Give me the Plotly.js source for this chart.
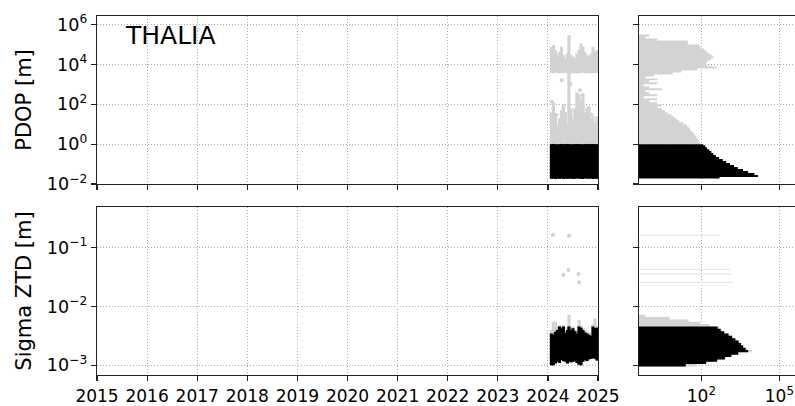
<!DOCTYPE html>
<html>
<head>
<meta charset="utf-8">
<script src="https://cdn.plot.ly/plotly-3.0.1.min.js"></script>
<style>html,body{margin:0;padding:0;background:#fff;}#chart{width:795px;height:406px;}</style>
</head>
<body>
<div id="chart"></div>
<script>
// ---------- DATA ----------
const stationName = "THALIA";
const yearTicks = [2015, 2016, 2017, 2018, 2019, 2020, 2021, 2022, 2023, 2024, 2025];

// sample epochs (decimal years) of the dense time series
const sampleYears = [2024.07, 2024.11, 2024.15, 2024.19, 2024.23, 2024.27, 2024.31, 2024.35,
  2024.39, 2024.42, 2024.46, 2024.50, 2024.54, 2024.58, 2024.62, 2024.66,
  2024.70, 2024.74, 2024.78, 2024.82, 2024.86, 2024.90, 2024.94, 2024.98];

// PDOP (log10 of metres)
const pdopBlackLowExp  = [-1.74,-1.72,-1.75,-1.73,-1.74,-1.72,-1.75,-1.73,-1.74,-1.72,-1.73,-1.75,
                          -1.74,-1.72,-1.73,-1.74,-1.75,-1.72,-1.73,-1.74,-1.72,-1.75,-1.73,-1.74];
const pdopBlackHighExp = [0.0,0.01,0.0,-0.01,0.0,0.01,0.0,0.0,0.01,0.0,-0.01,0.0,
                          0.0,0.01,0.0,0.0,-0.01,0.0,0.01,0.0,0.0,0.01,0.0,0.0];
const pdopGrayMidTopExp = [1.6,2.1,1.5,1.0,1.3,1.7,2.0,1.6,1.0,3.6,1.8,1.3,
                           1.8,2.6,2.5,2.2,2.5,1.6,1.8,1.9,1.3,1.4,1.1,1.4];
const pdopGrayBandLowExp  = [3.58,3.55,3.60,3.57,3.55,3.58,3.56,3.60,3.55,3.50,3.57,3.55,
                             3.58,3.56,3.55,3.57,3.60,3.55,3.58,3.56,3.55,3.57,3.58,3.56];
const pdopGrayBandHighExp = [4.88,4.97,4.72,4.47,4.63,4.88,4.47,4.30,4.55,5.47,4.47,4.38,
                             4.30,4.55,4.72,5.05,4.88,4.63,4.47,4.38,4.55,4.88,4.63,4.72];
const pdopOutlierYears = [2024.275, 2024.64, 2024.69, 2024.29, 2024.08, 2024.87, 2024.81, 2024.17, 2024.55, 2024.45];
const pdopOutlierExp   = [3.2, 2.7, 2.46, 1.47, 2.13, 1.47, 1.8, 1.47, 1.47, 3.0];

// Sigma ZTD (log10 of metres)
const ztdBlackLowExp  = [-3.00,-3.00,-2.97,-2.94,-2.96,-2.91,-2.93,-2.94,-2.97,-2.94,-2.95,-2.94,
                         -2.93,-2.96,-2.99,-3.00,-2.94,-2.91,-2.93,-2.90,-2.89,-2.88,-2.89,-2.92];
const ztdBlackHighExp = [-2.46,-2.48,-2.43,-2.40,-2.34,-2.37,-2.34,-2.45,-2.40,-2.34,-2.40,-2.37,
                         -2.42,-2.46,-2.34,-2.36,-2.40,-2.44,-2.46,-2.48,-2.50,-2.34,-2.37,-2.36];
const ztdGrayHighExp  = [-2.40,-2.26,-2.26,-2.36,-2.32,-2.35,-2.32,-2.42,-2.36,-2.14,-2.38,-2.34,
                         -2.40,-2.42,-2.23,-2.32,-2.37,-2.40,-2.42,-2.44,-2.46,-2.30,-2.20,-2.33];
const ztdOutlierYears = [2024.10, 2024.42, 2024.31, 2024.41, 2024.61, 2024.62];
const ztdOutlierExp   = [-0.78, -0.80, -1.46, -1.38, -1.45, -1.59];

// Histograms: bin edges (log10 of metres) and counts
const pdopGrayEdgesExp = [0.0,0.1,0.2,0.3,0.4,0.5,0.6,0.7,0.8,0.9,1.0,1.1,1.2,1.3,1.4,1.5,1.6,1.7,1.8,1.9,
  2.0,2.1,2.2,2.3,2.4,2.5,2.6,2.7,2.8,2.9,3.0,3.1,3.2,3.3,3.4,3.5,3.6,3.7,3.8,3.9,
  4.0,4.1,4.2,4.3,4.4,4.5,4.6,4.7,4.8,4.9,5.0,5.1,5.2,5.3,5.4,5.5,5.6];
const pdopGrayCounts = [90,80,70,65,58,50,42,36,32,27,20,14,11,9,7,5,4,3,2,3,
  2,1,2,0.6,2,1,0.7,3,1,0.6,2,1,2,0.7,1.5,8,17,70,380,170,
  150,170,230,290,260,200,160,130,95,80,30,30,2,0.7,1,0];
const pdopBlackEdgesExp = [-1.72,-1.65,-1.55,-1.45,-1.35,-1.25,-1.15,-1.05,-0.95,-0.85,
  -0.75,-0.65,-0.55,-0.45,-0.35,-0.25,-0.15,-0.05,0.0];
const pdopBlackCounts = [500,15000,11000,6300,4000,2500,1800,1250,900,660,480,360,290,240,200,165,140,117];

const ztdGrayEdgesExp = [-3.02,-2.98,-2.94,-2.90,-2.86,-2.82,-2.78,-2.74,-2.70,-2.66,-2.62,-2.58,
  -2.54,-2.50,-2.46,-2.42,-2.38,-2.34,-2.30,-2.26,-2.22,-2.18,-2.14];
const ztdGrayCounts = [60,170,430,870,1550,2900,8700,5600,4400,3600,2900,2200,1650,1200,820,600,460,200,90,32,6,0.7];
const ztdBlackEdgesExp = [-3.02,-2.98,-2.94,-2.90,-2.86,-2.82,-2.78,-2.74,-2.70,-2.66,-2.62,-2.58,
  -2.54,-2.50,-2.46,-2.42,-2.38,-2.34];
const ztdBlackCounts = [25,150,400,800,1400,2600,6300,5000,4000,3300,2700,2000,1500,1100,750,550,420];
const ztdOutlierLineExp = [-0.79, -1.37, -1.45, -1.59];
const ztdOutlierLineCounts = [500, 1300, 1500, 1700];

// ---------- BUILD ----------
const GRAY = '#d3d3d3';
const p10 = v => Math.pow(10, v);

function segments(xs, lo, hi) {
  const X = [], Y = [];
  xs.forEach((x, i) => { X.push(x, x, null); Y.push(p10(lo[i]), p10(hi[i]), null); });
  return {X, Y};
}
function stepPoly(edges, counts, floor) {
  const X = [floor], Y = [p10(edges[0])];
  counts.forEach((c, i) => {
    const v = c > 0 ? c : floor;
    X.push(v, v); Y.push(p10(edges[i]), p10(edges[i + 1]));
  });
  X.push(floor); Y.push(p10(edges[edges.length - 1]));
  return {X, Y};
}
function hLines(levels, counts, floor) {
  const X = [], Y = [];
  levels.forEach((c, i) => { X.push(floor, counts[i], null); Y.push(p10(c), p10(c), null); });
  return {X, Y};
}

const SEGW = 3.2;
const traces = [];
// top-left
let s = segments(sampleYears, pdopBlackHighExp, pdopGrayMidTopExp);
traces.push({x: s.X, y: s.Y, xaxis: 'x', yaxis: 'y', mode: 'lines', line: {color: GRAY, width: SEGW}, hoverinfo: 'skip'});
s = segments(sampleYears, pdopGrayBandLowExp, pdopGrayBandHighExp);
traces.push({x: s.X, y: s.Y, xaxis: 'x', yaxis: 'y', mode: 'lines', line: {color: GRAY, width: SEGW}, hoverinfo: 'skip'});
traces.push({x: pdopOutlierYears, y: pdopOutlierExp.map(p10), xaxis: 'x', yaxis: 'y', mode: 'markers',
  marker: {color: GRAY, size: 4}, hoverinfo: 'skip'});
s = segments(sampleYears, pdopBlackLowExp, pdopBlackHighExp);
traces.push({x: s.X, y: s.Y, xaxis: 'x', yaxis: 'y', mode: 'lines', line: {color: '#000', width: SEGW}, hoverinfo: 'skip'});

// top-right
const FLOOR = 0.01;
let h = stepPoly(pdopGrayEdgesExp, pdopGrayCounts, FLOOR);
traces.push({x: h.X, y: h.Y, xaxis: 'x2', yaxis: 'y2', mode: 'lines', fill: 'toself', fillcolor: GRAY, line: {width: 0}, hoverinfo: 'skip'});
h = stepPoly(pdopBlackEdgesExp, pdopBlackCounts, FLOOR);
traces.push({x: h.X, y: h.Y, xaxis: 'x2', yaxis: 'y2', mode: 'lines', fill: 'toself', fillcolor: '#000', line: {width: 0}, hoverinfo: 'skip'});

// bottom-left
s = segments(sampleYears, ztdBlackLowExp, ztdGrayHighExp);
traces.push({x: s.X, y: s.Y, xaxis: 'x3', yaxis: 'y3', mode: 'lines', line: {color: GRAY, width: SEGW}, hoverinfo: 'skip'});
traces.push({x: ztdOutlierYears, y: ztdOutlierExp.map(p10), xaxis: 'x3', yaxis: 'y3', mode: 'markers',
  marker: {color: GRAY, size: 4}, hoverinfo: 'skip'});
s = segments(sampleYears, ztdBlackLowExp, ztdBlackHighExp);
traces.push({x: s.X, y: s.Y, xaxis: 'x3', yaxis: 'y3', mode: 'lines', line: {color: '#000', width: SEGW}, hoverinfo: 'skip'});

// bottom-right
h = stepPoly(ztdGrayEdgesExp, ztdGrayCounts, FLOOR);
traces.push({x: h.X, y: h.Y, xaxis: 'x4', yaxis: 'y4', mode: 'lines', fill: 'toself', fillcolor: GRAY, line: {width: 0}, hoverinfo: 'skip'});
h = hLines(ztdOutlierLineExp, ztdOutlierLineCounts, FLOOR);
traces.push({x: h.X, y: h.Y, xaxis: 'x4', yaxis: 'y4', mode: 'lines', line: {color: '#e2e2e2', width: 1}, hoverinfo: 'skip'});
h = stepPoly(ztdBlackEdgesExp, ztdBlackCounts, FLOOR);
traces.push({x: h.X, y: h.Y, xaxis: 'x4', yaxis: 'y4', mode: 'lines', fill: 'toself', fillcolor: '#000', line: {width: 0}, hoverinfo: 'skip'});

// ---------- LAYOUT ----------
const FONT = 'DejaVu Sans, sans-serif';
const yTickFont = {family: FONT, size: 17.5, color: '#000'};
const xTickFont = {family: FONT, size: 17, color: '#000'};
const common = {
  showline: true, linecolor: '#222', linewidth: 1.3,
  ticks: 'outside', ticklen: 5, tickwidth: 1.2, tickcolor: '#222',
  showgrid: true, gridcolor: '#aaaaaa', gridwidth: 1, griddash: '1px,2px',
  zeroline: false, fixedrange: true
};
const xc = Object.assign({}, common, {tickfont: xTickFont});
const yc = Object.assign({}, common, {tickfont: yTickFont});
const pdopTickVals = [1e-2, 1, 1e2, 1e4, 1e6];
const pdopTickText = ['10<sup>−2</sup>', '10<sup>0</sup>', '10<sup>2</sup>', '10<sup>4</sup>', '10<sup>6</sup>'];
const ztdTickVals = [1e-3, 1e-2, 1e-1];
const ztdTickText = ['10<sup>−3</sup>', '10<sup>−2</sup>', '10<sup>−1</sup>'];
const histTickVals = [1e2, 1e5];
const histTickText = ['10<sup>2</sup>', '10<sup>5</sup>'];

const LEFT = [0, 0.71777], RIGHT = [0.77650, 1];
const TOP = [0.53203, 1], BOT = [0, 0.46797];

const layout = {
  width: 795, height: 406,
  margin: {l: 97, r: 0, t: 16, b: 31},
  paper_bgcolor: '#fff', plot_bgcolor: '#fff',
  showlegend: false,
  font: {family: FONT, color: '#000'},
  xaxis: Object.assign({}, xc, {domain: LEFT, anchor: 'y', range: [2015, 2025], tickvals: yearTicks, showticklabels: false, mirror: true}),
  yaxis: Object.assign({}, yc, {domain: TOP, anchor: 'x', type: 'log', range: [-2, 6.43], tickvals: pdopTickVals, ticktext: pdopTickText, mirror: true,
    title: {text: 'PDOP [m]', font: {family: FONT, size: 21, color: '#000'}, standoff: 9}}),
  xaxis2: Object.assign({}, xc, {domain: RIGHT, anchor: 'y2', type: 'log', range: [-0.40, 5.60], tickvals: histTickVals, showticklabels: false, mirror: true}),
  yaxis2: Object.assign({}, yc, {domain: TOP, anchor: 'x2', type: 'log', range: [-2, 6.43], tickvals: pdopTickVals, showticklabels: false, mirror: false}),
  xaxis3: Object.assign({}, xc, {domain: LEFT, anchor: 'y3', range: [2015, 2025], tickvals: yearTicks, ticktext: yearTicks.map(String), mirror: true}),
  yaxis3: Object.assign({}, yc, {domain: BOT, anchor: 'x3', type: 'log', range: [-3.165, -0.31], tickvals: ztdTickVals, ticktext: ztdTickText, mirror: true,
    title: {text: 'Sigma ZTD [m]', font: {family: FONT, size: 21, color: '#000'}, standoff: 9}}),
  xaxis4: Object.assign({}, xc, {domain: RIGHT, anchor: 'y4', type: 'log', range: [-0.40, 5.60], tickvals: histTickVals, ticktext: histTickText, mirror: true}),
  yaxis4: Object.assign({}, yc, {domain: BOT, anchor: 'x4', type: 'log', range: [-3.165, -0.31], tickvals: ztdTickVals, showticklabels: false, mirror: false}),
  annotations: [{
    text: stationName, xref: 'x domain', yref: 'y domain', x: 0.052, y: 0.881,
    xanchor: 'left', yanchor: 'middle', showarrow: false,
    font: {family: FONT, size: 25, color: '#000'}
  }]
};

Plotly.newPlot('chart', traces, layout, {staticPlot: true, displayModeBar: false});
</script>
</body>
</html>
